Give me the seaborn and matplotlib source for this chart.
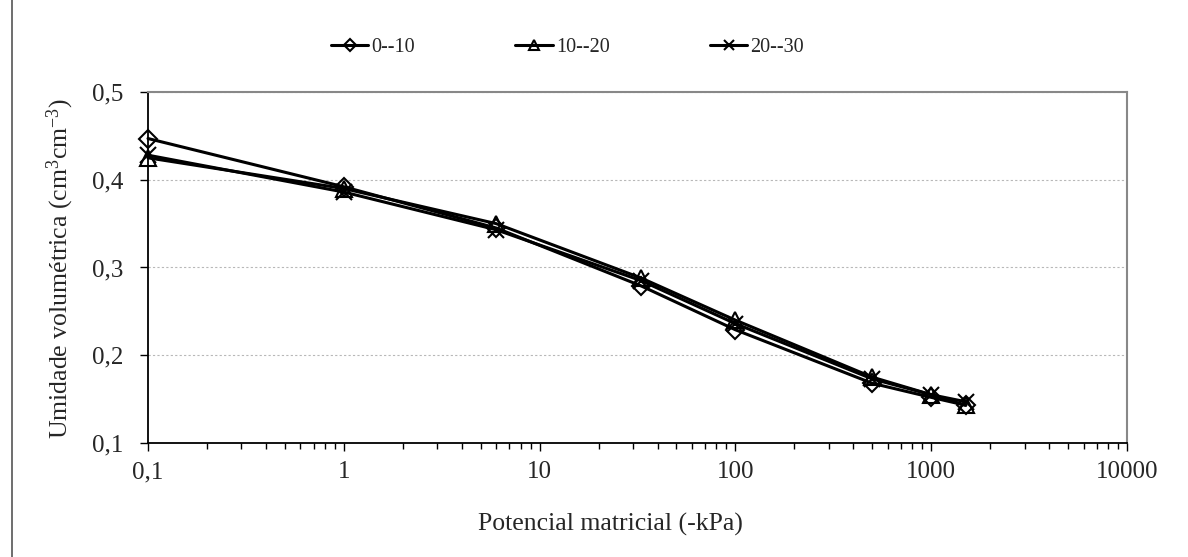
import numpy as np
import pandas as pd
import matplotlib
matplotlib.use("Agg")
import matplotlib.pyplot as plt
import seaborn as sns
from matplotlib.ticker import FixedLocator, LogLocator, FuncFormatter, NullFormatter
from matplotlib.lines import Line2D

# dados
potencial = [0.1, 1, 6, 33, 100, 500, 1000, 1500]
camadas = ["0--10", "10--20", "20--30"]
theta_0_10 = [0.447, 0.392, 0.345, 0.279, 0.229, 0.168, 0.152, 0.143]
theta_10_20 = [0.425, 0.390, 0.350, 0.288, 0.240, 0.175, 0.155, 0.143]
theta_20_30 = [0.428, 0.386, 0.343, 0.285, 0.236, 0.173, 0.155, 0.147]
marcadores = ["D", "^", "x"]
tamanhos = [9, 11, 11]
y_ticks = [0.1, 0.2, 0.3, 0.4, 0.5]
x_ticks = [0.1, 1, 10, 100, 1000, 10000]

series = [theta_0_10, theta_10_20, theta_20_30]

sns.set_style("white")
plt.rcParams["font.family"] = ["Liberation Serif", "DejaVu Serif"]
plt.rcParams["mathtext.fontset"] = "custom"
plt.rcParams["mathtext.rm"] = "Liberation Serif"
plt.rcParams["mathtext.it"] = "Liberation Serif:italic"
plt.rcParams["font.size"] = 18

fig = plt.figure(figsize=(11.88, 5.57), dpi=100)
ax = fig.add_axes([0.1246, 0.2047, 0.8241, 0.6301])

for nome, valores, mk, ms in zip(camadas, series, marcadores, tamanhos):
    d = pd.DataFrame({"kPa": potencial, "theta": valores})
    sns.lineplot(data=d, x="kPa", y="theta", color="black", marker=mk,
                 markersize=ms, markerfacecolor="none",
                 markeredgecolor="black", markeredgewidth=1.5, linewidth=2.2,
                 label=nome, legend=False, clip_on=False, ax=ax, zorder=5)

ax.set_xscale("log")
ax.set_xlim(0.1, 10000)
ax.set_ylim(0.1, 0.5)
ax.xaxis.set_major_locator(FixedLocator(x_ticks))
ax.xaxis.set_minor_locator(LogLocator(base=10, subs=np.arange(2, 10)))
ax.xaxis.set_minor_formatter(NullFormatter())
ax.xaxis.set_major_formatter(FuncFormatter(lambda v, p: f"{v:g}".replace(".", ",")))
ax.yaxis.set_major_locator(FixedLocator(y_ticks))
ax.yaxis.set_major_formatter(FuncFormatter(lambda v, p: f"{v:.1f}".replace(".", ",")))

ax.tick_params(axis="both", which="major", direction="out", length=6, width=1,
               color="black", labelsize=18, bottom=True, left=True)
ax.tick_params(axis="x", which="major", pad=7)
ax.tick_params(axis="y", which="major", pad=12)
ax.tick_params(axis="x", which="minor", direction="out", length=4, width=1,
               color="black", bottom=True)

ax.grid(axis="y", color="#b8b8b8", linestyle=(0, (2, 2)), linewidth=0.8)
ax.grid(axis="x", visible=False)
for side in ["top", "right"]:
    ax.spines[side].set_color("#888888")
    ax.spines[side].set_linewidth(1.5)
for side in ["left", "bottom"]:
    ax.spines[side].set_color("black")
    ax.spines[side].set_linewidth(1.3)

ax.set_xlabel("Potencial matricial (-kPa)", fontsize=18.5, va="center")
ax.xaxis.set_label_coords(0.472, -0.231)
ax.set_ylabel("Umidade volumétrica (cm$^{3}$cm$^{-3}$)", fontsize=18.5, va="center")
ax.yaxis.set_label_coords(-0.0899, 0.497)

fig.legend(ax.lines[:3], camadas, loc="center", bbox_to_anchor=(0.4777, 0.9156),
           ncol=3, frameon=False, fontsize=14.5, handlelength=1.85,
           handletextpad=0.15, columnspacing=5.0, markerscale=0.65)

# borda externa esquerda do gráfico
fig.add_artist(Line2D([12 / 1188, 12 / 1188], [0, 1], color="#555555", linewidth=1.2,
                      transform=fig.transFigure))

fig.savefig("out.png", dpi=100)
